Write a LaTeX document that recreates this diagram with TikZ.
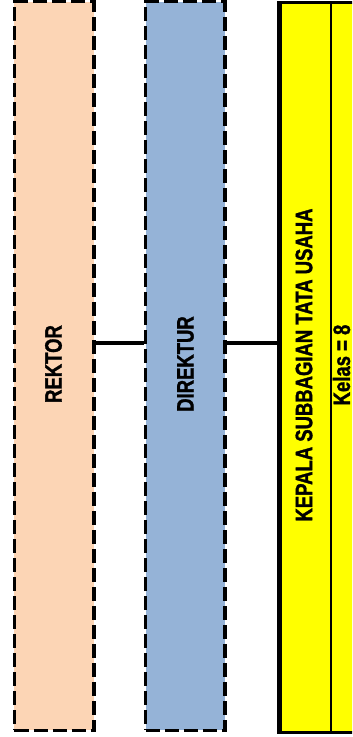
\documentclass[tikz,border=0pt]{standalone}
\usepackage{fontspec}
\setmainfont{Liberation Sans}[FakeStretch=0.78, BoldFeatures={FakeBold=1.3}]
\definecolor{peach}{HTML}{FCD5B5}
\definecolor{steel}{HTML}{95B3D7}
\definecolor{yel}{HTML}{FFFF00}
\begin{document}
\begin{tikzpicture}[x=1bp,y=-1bp,
  dbox/.style={draw=black, line width=3.5bp, dash pattern=on 14bp off 5bp, inner sep=0pt, minimum width=79.5bp, minimum height=728.5bp},
  lbl/.style={rotate=90, font=\fontsize{23.8}{28}\selectfont\bfseries, inner sep=0pt},
  conn/.style={line width=3.5bp}]
\clip (0,0) rectangle (352,737);
\fill[white] (0,0) rectangle (352,737);
\node[dbox, fill=peach] (rektor) at (54.25,366) {};
\node[dbox, fill=steel] (direktur) at (185.25,366) {};
\node[draw=black, fill=yel, line width=3bp, inner sep=0pt, minimum width=140bp, minimum height=729bp, anchor=north west] (kasub) at (278.5,1.5) {};
\coordinate (split) at (330.5,0);
\draw[line width=2bp] (split |- kasub.north) -- (split |- kasub.south);
\draw[line width=3.5bp] (kasub.north west) -- (kasub.south west);
\node[lbl] (trektor) at (53.5,364) {REKTOR};
\node[lbl] (tdirektur) at (185.5,364) {DIREKTUR};
\node[lbl] (tkasub) at (304,365) {KEPALA SUBBAGIAN TATA USAHA};
\node[lbl] (tkelas) at (341.5,365) {Kelas = 8};
\coordinate (lvl) at (0,343);
\draw[conn] (rektor.east |- lvl) -- (direktur.west |- lvl);
\draw[conn] (direktur.east |- lvl) -- (kasub.west |- lvl);
\end{tikzpicture}
\end{document}
